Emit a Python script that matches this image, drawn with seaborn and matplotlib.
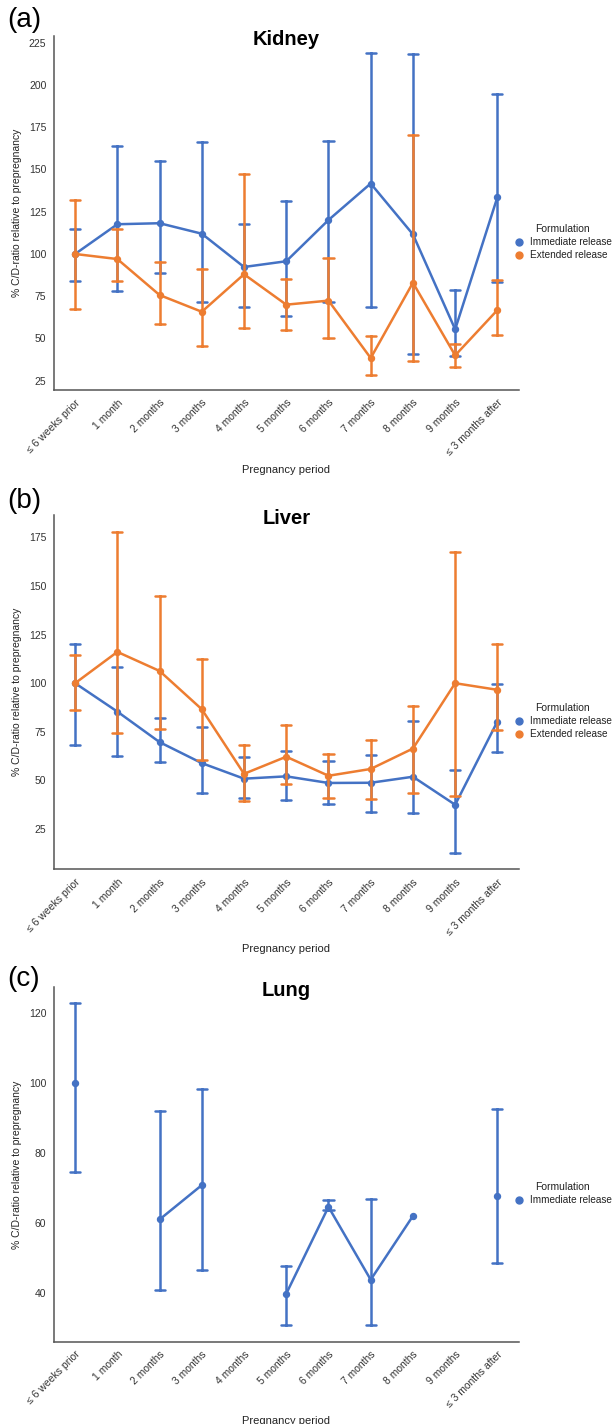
import numpy as np
import pandas as pd
import matplotlib
matplotlib.use("Agg")
import matplotlib.pyplot as plt
from matplotlib.lines import Line2D
import seaborn as sns

# ---------------- data ----------------
periods = ["≤ 6 weeks prior", "1 month", "2 months", "3 months", "4 months",
           "5 months", "6 months", "7 months", "8 months", "9 months",
           "≤ 3 months after"]
formulations = ["Immediate release", "Extended release"]
nan = np.nan

kidney_ir_mean = [100, 117.6, 118.2, 112.0, 92.3, 95.7, 120.1, 141.7, 111.6, 55.4, 133.6]
kidney_ir_upper = [114.6, 163.8, 155.1, 166.4, 117.6, 131.2, 166.8, 218.9, 218.3, 78.9, 194.8]
kidney_ir_lower = [83.8, 77.9, 88.6, 71.8, 68.6, 63.4, 71.8, 68.8, 40.8, 39.8, 83.4]
kidney_er_mean = [100, 97.0, 75.7, 65.8, 88.0, 70.0, 72.4, 38.4, 83.0, 40.0, 66.8]
kidney_er_upper = [131.8, 115.0, 95.3, 90.9, 147.2, 85.4, 97.8, 51.6, 170.3, 46.7, 84.8]
kidney_er_lower = [67.4, 83.8, 58.4, 45.3, 56.0, 54.8, 50.2, 28.1, 36.6, 33.2, 52.0]

liver_ir_mean = [100, 85.4, 69.7, 58.9, 50.9, 52.1, 48.7, 48.8, 51.9, 37.5, 80.3]
liver_ir_upper = [120.2, 108.5, 82.0, 77.7, 62.3, 64.9, 60.0, 63.2, 80.5, 55.6, 99.5]
liver_ir_lower = [68.3, 62.7, 59.4, 43.7, 40.8, 39.7, 37.7, 33.9, 33.4, 12.7, 64.7]
liver_er_mean = [100, 116.1, 106.3, 86.6, 53.4, 62.2, 52.4, 55.9, 66.4, 100, 96.6]
liver_er_upper = [114.7, 178.0, 144.7, 112.3, 68.3, 78.6, 63.4, 70.7, 88.5, 167.3, 120.0]
liver_er_lower = [86.3, 74.6, 76.7, 60.3, 39.6, 48.1, 41.1, 40.2, 43.7, 42.1, 76.0]

lung_ir_mean = [100, nan, 61.1, 70.9, nan, 39.9, 64.7, 43.9, 62.1, nan, 67.9]
lung_ir_upper = [122.9, nan, 92.2, 98.4, nan, 47.8, 66.6, 66.9, nan, nan, 92.7]
lung_ir_lower = [74.7, nan, 40.9, 46.6, nan, 30.9, 63.8, 30.9, nan, nan, 48.6]

colors = {"Immediate release": "#4472C4", "Extended release": "#ED7D31"}


def long_frame(series):
    rows = []
    for form, (mean, lower, upper) in series.items():
        for p, m, lo, up in zip(periods, mean, lower, upper):
            if np.isnan(m):
                continue
            rows.append((p, form, m))
            if not np.isnan(lo):
                rows.append((p, form, lo))
                rows.append((p, form, up))
    return pd.DataFrame(rows, columns=["period", "formulation", "value"])


panels = [
    ("(a)", "Kidney", {"Immediate release": (kidney_ir_mean, kidney_ir_lower, kidney_ir_upper),
                       "Extended release": (kidney_er_mean, kidney_er_lower, kidney_er_upper)},
     (19.5, 229), np.arange(25, 226, 25), [36, 390], 7),
    ("(b)", "Liver", {"Immediate release": (liver_ir_mean, liver_ir_lower, liver_ir_upper),
                      "Extended release": (liver_er_mean, liver_er_lower, liver_er_upper)},
     (4.3, 186.5), np.arange(25, 176, 25), [515, 869.3], 488),
    ("(c)", "Lung", {"Immediate release": (lung_ir_mean, lung_ir_lower, lung_ir_upper)},
     (26.2, 127.4), np.arange(40, 121, 20), [987.3, 1341.7], 966),
]

# ---------------- style ----------------
sns.set_theme(style="white")
plt.rcParams["font.family"] = ["Liberation Sans", "DejaVu Sans"]

W, H = 615, 1424
fig = plt.figure(figsize=(W / 100, H / 100), dpi=100)

ax_left, ax_right = 54, 518.5

for label, title, series, ylim, yticks, (top, bottom), label_y in panels:
    ax = fig.add_axes([ax_left / W, 1 - bottom / H, (ax_right - ax_left) / W, (bottom - top) / H])
    df = long_frame(series)
    sns.pointplot(data=df, x="period", y="value", hue="formulation",
                  order=periods, hue_order=list(series.keys()), palette=colors,
                  estimator="median", errorbar=("pi", 100), capsize=0.24,
                  markers="o", markersize=4.3, markeredgewidth=1.0, linewidth=1.8,
                  err_kws={"linewidth": 1.8}, legend=False, ax=ax)
    ax.set_xlim(-0.5, len(periods) - 0.5)
    ax.set_ylim(*ylim)
    ax.set_yticks(yticks)
    ax.set_yticklabels([str(v) for v in yticks])
    ax.tick_params(axis="both", length=0, labelsize=7.5, labelcolor="#333333")
    ax.tick_params(axis="y", pad=5.5)
    ax.tick_params(axis="x", pad=5.5)
    plt.setp(ax.get_xticklabels(), rotation=45, ha="right", rotation_mode="anchor")
    ax.set_xlabel("Pregnancy period", fontsize=8, color="#222222", labelpad=5)
    ax.set_ylabel("% C/D-ratio relative to prepregnancy", fontsize=7.5, color="#222222", labelpad=5)
    ax.set_title(title, fontsize=14.5, fontweight="bold", color="black", y=1.0, pad=-6.5)
    sns.despine(ax=ax)
    for side in ("left", "bottom"):
        ax.spines[side].set_color("#555555")
        ax.spines[side].set_linewidth(1.1)
    ax.grid(False)

    handles = [Line2D([], [], marker="o", linestyle="", markersize=5,
                      color=colors[f]) for f in series.keys()]
    leg = ax.legend(handles, list(series.keys()), title="Formulation",
                    loc="center left", bbox_to_anchor=(0.99, 0.418),
                    frameon=False, fontsize=7.2, title_fontsize=7.5,
                    handlelength=1.0, handletextpad=0.6, labelspacing=0.3,
                    borderaxespad=0, borderpad=0)
    for t in leg.get_texts():
        t.set_color("#222222")
    leg.get_title().set_color("#222222")

    fig.text(7 / W, 1 - label_y / H, label, fontsize=20, va="top", ha="left", color="black")

fig.savefig("out.png", dpi=100)
